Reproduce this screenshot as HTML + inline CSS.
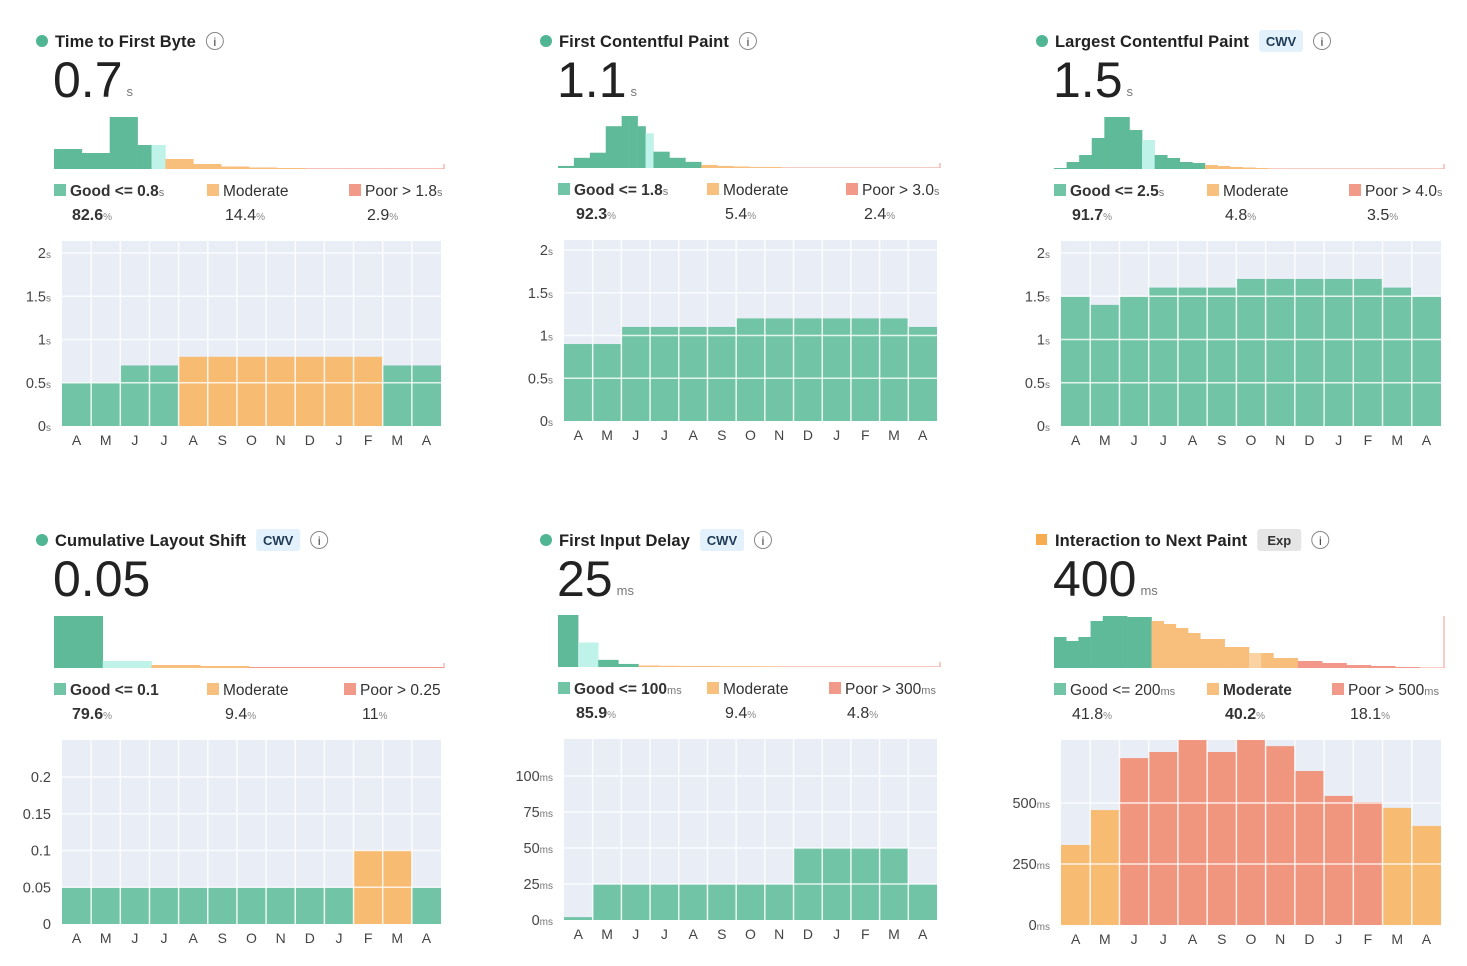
<!DOCTYPE html>
<html><head><meta charset="utf-8">
<style>
html,body{margin:0;padding:0;background:#fff;}
body{width:1467px;height:966px;position:relative;overflow:hidden;font-family:"Liberation Sans","DejaVu Sans",sans-serif;color:#333;}
svg{position:absolute;left:0;top:0;}
</style></head>
<body>
<svg id="chart" width="1467" height="966" viewBox="0 0 1467 966" xmlns="http://www.w3.org/2000/svg"></svg>
<script>
// ---------- DATA ----------
const months = ["A","M","J","J","A","S","O","N","D","J","F","M","A"];

const ttfbValues = [0.5,0.5,0.7,0.7,0.8,0.8,0.8,0.8,0.8,0.8,0.8,0.7,0.7];
const ttfbRatings = ["g","g","g","g","m","m","m","m","m","m","m","g","g"];
const ttfbTicks = [0,0.5,1,1.5,2];
const ttfbTickLabels = ["0","0.5","1","1.5","2"];
const ttfbHist = [20,20,16,16,52,52,24,24,10,10,5,5,2.5,2.5,1.5,1.5,1,1,0.6,0.6,0.6,0.6,0.6,0.6,0.6,0.6,0.6,0.6];
const ttfbHistClass = ["g","g","g","g","g","g","g","l","m","m","m","m","m","m","m","m","m","m","p","p","p","p","p","p","p","p","p","p"];

const fcpValues = [0.9,0.9,1.1,1.1,1.1,1.1,1.2,1.2,1.2,1.2,1.2,1.2,1.1];
const fcpRatings = ["g","g","g","g","g","g","g","g","g","g","g","g","g"];
const fcpTicks = [0,0.5,1,1.5,2];
const fcpTickLabels = ["0","0.5","1","1.5","2"];
const fcpHist = [2,2,10,10,15,15,41,41,51,51,41,34,16,16,10,10,6,6,3,3,2,2,1.5,1.5,1,1,1,1,0.5,0.5,0.5,0.5,0.5,0.5,0.5,0.5,0.5,0.5,0.5,0.5,0.5,0.5,0.5,0.5,0.5,0.5,0.5,0.5];
const fcpHistClass = ["g","g","g","g","g","g","g","g","g","g","g","l","g","g","g","g","g","g","m","m","m","m","m","m","m","m","m","m","p","p","p","p","p","p","p","p","p","p","p","p","p","p","p","p","p","p","p","p"];

const lcpValues = [1.5,1.4,1.5,1.6,1.6,1.6,1.7,1.7,1.7,1.7,1.7,1.6,1.5];
const lcpRatings = ["g","g","g","g","g","g","g","g","g","g","g","g","g"];
const lcpTicks = [0,0.5,1,1.5,2];
const lcpTickLabels = ["0","0.5","1","1.5","2"];
const lcpHist = [1,7,14,31,52,52,39,29,14,11,7,6,4,3,2,1.5,1,0.5,0.5,0.5,0.5,0.5,0.5,0.5,0.5,0.5,0.5,0.5,0.5,0.5,0.5];
const lcpHistClass = ["g","g","g","g","g","g","g","l","g","g","g","g","m","m","m","m","m","p","p","p","p","p","p","p","p","p","p","p","p","p","p"];

const clsValues = [0.05,0.05,0.05,0.05,0.05,0.05,0.05,0.05,0.05,0.05,0.1,0.1,0.05];
const clsRatings = ["g","g","g","g","g","g","g","g","g","g","m","m","g"];
const clsTicks = [0,0.05,0.1,0.15,0.2];
const clsTickLabels = ["0","0.05","0.1","0.15","0.2"];
const clsHist = [52,7,3,2,1,1,1,1];
const clsHistClass = ["g","l","m","m","p","p","p","p"];

const fidValues = [2,25,25,25,25,25,25,25,50,50,50,50,25];
const fidRatings = ["g","g","g","g","g","g","g","g","g","g","g","g","g"];
const fidTicks = [0,25,50,75,100];
const fidTickLabels = ["0","25","50","75","100"];
const fidHist = [51,24,7,3,1.5,1.2,1,1,0.8,0.8,0.7,0.5,0.5,0.5,0.5,0.5,0.5,0.5,0.5];
const fidHistClass = ["g","l","g","g","m","m","m","m","m","m","m","p","p","p","p","p","p","p","p"];

const inpValues = [328,471,684,709,758,709,758,733,631,529,504,480,406];
const inpRatings = ["m","m","p","p","p","p","p","p","p","p","p","m","m"];
const inpTicks = [0,250,500];
const inpTickLabels = ["0","250","500"];
const inpHist = [31,27,31,47,52,52,51,51,47,44,40,35,29,29,21,21,15,15,10,10,7,7,5,5,3,3,2,2,1,1,0.5,0.5];
const inpHistClass = ["g","g","g","g","g","g","g","g","m","m","m","m","m","m","m","m","lm","m","m","m","p","p","p","p","p","p","p","p","p","p","p","p"];

// ---------- LAYOUT ----------
const histColors = {g:"#5fba99",l:"#bff2e8",m:"#f8be7c",lm:"#fbd3a2",p:"#f2978a"};
const barColors = {g:"#72c4a6",m:"#f8bb72",p:"#f0957e"};
const NS = "http://www.w3.org/2000/svg";
const svg = document.getElementById("chart");

function mk(tag, attrs, parent){
  const e = document.createElementNS(NS, tag);
  for (const k in attrs) e.setAttribute(k, attrs[k]);
  (parent||svg).appendChild(e);
  return e;
}

const panels = [
 {key:"ttfb",title:"Time to First Byte",badge:null,dot:"circle",dotColor:"#4fb593",big:"0.7",unit:"s",
  tx:35,ty:41,hx0:54,hx1:444,hb:169,values:ttfbValues,ratings:ttfbRatings,ticks:ttfbTicks,tickLabels:ttfbTickLabels,yunit:"s",
  hist:ttfbHist,histClass:ttfbHistClass,px0:62,px1:441,ptop:241,pzero:426,ptopTickY:253,
  legend:[["Good <= 0.8","s",54,"82.6",72,true],["Moderate","",207,"14.4",225,false],["Poor > 1.8","s",349,"2.9",367,false]],ly:191},
 {key:"fcp",title:"First Contentful Paint",badge:null,dot:"circle",dotColor:"#4fb593",big:"1.1",unit:"s",
  tx:539,ty:41,hx0:558,hx1:940,hb:168,values:fcpValues,ratings:fcpRatings,ticks:fcpTicks,tickLabels:fcpTickLabels,yunit:"s",
  hist:fcpHist,histClass:fcpHistClass,px0:564,px1:937,ptop:240,pzero:421,ptopTickY:250,
  legend:[["Good <= 1.8","s",558,"92.3",576,true],["Moderate","",707,"5.4",725,false],["Poor > 3.0","s",846,"2.4",864,false]],ly:190},
 {key:"lcp",title:"Largest Contentful Paint",badge:"CWV",dot:"circle",dotColor:"#4fb593",big:"1.5",unit:"s",
  tx:1035,ty:41,hx0:1054,hx1:1444,hb:169,values:lcpValues,ratings:lcpRatings,ticks:lcpTicks,tickLabels:lcpTickLabels,yunit:"s",
  hist:lcpHist,histClass:lcpHistClass,px0:1061,px1:1441,ptop:241,pzero:426,ptopTickY:253,
  legend:[["Good <= 2.5","s",1054,"91.7",1072,true],["Moderate","",1207,"4.8",1225,false],["Poor > 4.0","s",1349,"3.5",1367,false]],ly:191},
 {key:"cls",title:"Cumulative Layout Shift",badge:"CWV",dot:"circle",dotColor:"#4fb593",big:"0.05",unit:"",
  tx:35,ty:540,hx0:54,hx1:444,hb:668,values:clsValues,ratings:clsRatings,ticks:clsTicks,tickLabels:clsTickLabels,yunit:"",
  hist:clsHist,histClass:clsHistClass,px0:62,px1:441,ptop:740,pzero:924,ptopTickY:777,
  legend:[["Good <= 0.1","",54,"79.6",72,true],["Moderate","",207,"9.4",225,false],["Poor > 0.25","",344,"11",362,false]],ly:690},
 {key:"fid",title:"First Input Delay",badge:"CWV",dot:"circle",dotColor:"#4fb593",big:"25",unit:"ms",
  tx:539,ty:540,hx0:558,hx1:940,hb:667,values:fidValues,ratings:fidRatings,ticks:fidTicks,tickLabels:fidTickLabels,yunit:"ms",
  hist:fidHist,histClass:fidHistClass,px0:564,px1:937,ptop:739,pzero:920,ptopTickY:776,
  legend:[["Good <= 100","ms",558,"85.9",576,true],["Moderate","",707,"9.4",725,false],["Poor > 300","ms",829,"4.8",847,false]],ly:689},
 {key:"inp",title:"Interaction to Next Paint",badge:"Exp",dot:"square",dotColor:"#f8ac50",big:"400",unit:"ms",
  tx:1035,ty:540,hx0:1054,hx1:1444,hb:668,values:inpValues,ratings:inpRatings,ticks:inpTicks,tickLabels:inpTickLabels,yunit:"ms",
  hist:inpHist,histClass:inpHistClass,px0:1061,px1:1441,ptop:740,pzero:925,ptopTickY:803,
  legend:[["Good <= 200","ms",1054,"41.8",1072,false],["Moderate","",1207,"40.2",1225,true],["Poor > 500","ms",1332,"18.1",1350,false]],ly:690}
];

panels.forEach(p=>{
  const g = mk("g",{});
  
  

  // header
  if (p.dot==="circle") { const d=mk("circle",{cx:p.tx+7,cy:p.ty,r:6,fill:p.dotColor},g);   }
  else { const d=mk("rect",{x:p.tx+1,y:p.ty-6,width:11,height:11,fill:p.dotColor},g);   }
  const t = mk("text",{x:p.tx+20,y:p.ty+6,"font-size":"16.5","fill":"#222","font-weight":"bold","letter-spacing":"0.1"},g);
  t.textContent = p.title;
  
  
  let ix = p.tx+20+t.getComputedTextLength()+10;
  if (p.badge){
    const bw = 44;
    const br = mk("rect",{x:ix,y:p.ty-11,width:bw,height:22,rx:3,fill:p.badge==="Exp"?"#e5e5e5":"#e2f1fb"},g);
    
    
    const bt = mk("text",{x:ix+bw/2,y:p.ty+5,"text-anchor":"middle","font-size":"13","font-weight":"bold",fill:p.badge==="Exp"?"#333":"#1e3a56"},g);
    bt.textContent = p.badge;
    
    
    ix += bw+10;
  }
  const ic = mk("circle",{cx:ix+9,cy:p.ty,r:8.5,fill:"#fff",stroke:"#888","stroke-width":1},g);
  
  
  const it = mk("text",{x:ix+9,y:p.ty+5,"text-anchor":"middle","font-size":"12",fill:"#333"},g);
  it.textContent="i";
  
  

  // big value
  const bv = mk("text",{x:p.tx+18,y:p.ty+56,"font-size":"50",fill:"#222","font-weight":"normal"},g);
  bv.textContent = p.big;
  
  
  if (p.unit){
    const w = bv.getComputedTextLength();
    const u = mk("text",{x:p.tx+18+w+4,y:p.ty+55,"font-size":"13",fill:"#777"},g);
    u.textContent = p.unit;
    
    
  }

  // histogram
  const n = p.hist.length;
  const bwid = (p.hx1-p.hx0)/n;
  const hmax = Math.max(...p.hist);
  const hs = v => v/hmax*52;
  p.hist.forEach((v,i)=>{
    const h = hs(v);
    const r = mk("rect",{x:p.hx0+i*bwid,y:p.hb-h,width:bwid+0.3,height:h,fill:histColors[p.histClass[i]]},g);
    
    
  });
  mk("line",{x1:p.hx1,x2:p.hx1,y1:p.hb-(p.key==="inp"?52:5),y2:p.hb,stroke:"#f2978a","stroke-width":1},g);

  // legend
  const lc = ["#72c4a6","#f8c07f","#f29a8a"];
  p.legend.forEach((L,i)=>{
    const sw = mk("rect",{x:L[2],y:p.ly-7,width:12,height:12,fill:lc[i]},g);
    
    
    const lt = mk("text",{x:L[2]+16,y:p.ly+5,"font-size":"15.5",fill:"#333","font-weight":L[5]?"bold":"normal"},g);
    lt.textContent = L[0];
    
    
    if (L[1]){ const ts = mk("tspan",{"font-size":"11","font-weight":"normal",fill:"#777"},lt); ts.textContent=L[1]; }
    const vt = mk("text",{x:L[4],y:p.ly+29,"font-size":"16",fill:"#333","font-weight":L[5]?"bold":"normal"},g);
    vt.textContent = L[3];
    
    
    const pc = mk("tspan",{"font-size":"10","font-weight":"normal",fill:"#888"},vt); pc.textContent="%";
  });

  // bar chart
  const topTick = p.ticks[p.ticks.length-1];
  const y = v => p.pzero - v/topTick*(p.pzero-p.ptopTickY);
  const bg = mk("rect",{x:p.px0,y:p.ptop,width:p.px1-p.px0,height:p.pzero-p.ptop,fill:"#e9edf5"},g);
  
  
  const m = months.length;
  const cw = (p.px1-p.px0)/m;
  const x = i => p.px0 + i*cw;
  p.values.forEach((v,i)=>{
    const yy = Math.max(y(v), p.ptop);
    const r = mk("rect",{x:x(i),y:yy,width:cw,height:p.pzero-yy,fill:barColors[p.ratings[i]]},g);
    
    
  });
  for (let i=1;i<m;i++) mk("line",{x1:x(i),x2:x(i),y1:p.ptop,y2:p.pzero,stroke:"#fff","stroke-width":1.5,opacity:0.85},g);
  p.ticks.forEach((tv,i)=>{
    const yy = y(tv);
    if (tv!==0) mk("line",{x1:p.px0,x2:p.px1,y1:yy,y2:yy,stroke:"#fff","stroke-width":1.5,opacity:0.8},g);
    const tl = mk("text",{x:p.px0-11,y:yy+5,"text-anchor":"end","font-size":"14.5",fill:"#444"},g);
    tl.textContent = p.tickLabels[i];
    
    
    if (p.yunit){ const ts = mk("tspan",{"font-size":"10",fill:"#777"},tl); ts.textContent=p.yunit; }
  });
  months.forEach((mo,i)=>{
    const ml = mk("text",{x:x(i)+cw/2,y:p.pzero+19,"text-anchor":"middle","font-size":"14",fill:"#444"},g);
    ml.textContent = mo;
    
    
  });
});
</script>
</body></html>
